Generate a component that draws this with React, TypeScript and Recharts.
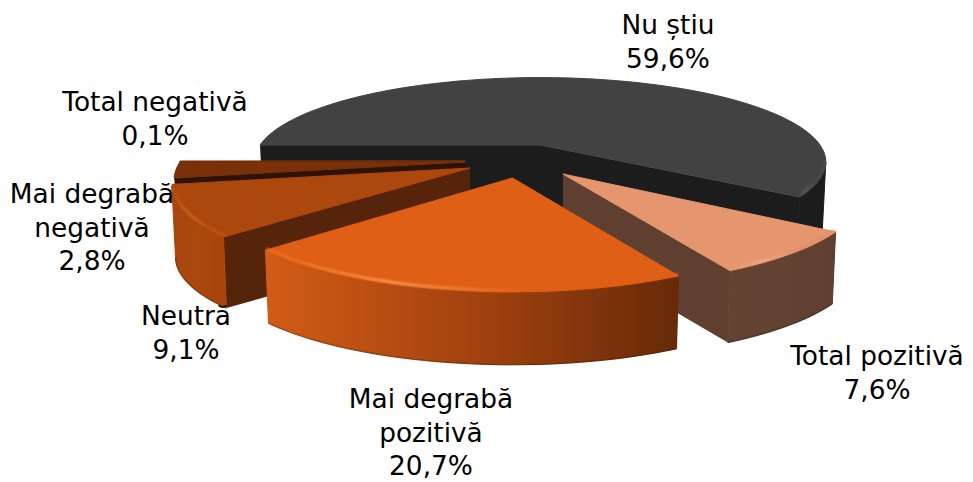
import { Pie, PieChart } from "recharts";

// order follows the paint order: back slices first, going counter-clockwise
const categories = [
  "Nu știu",
  "Total negativă",
  "Mai degrabă negativă",
  "Neutră",
  "Mai degrabă pozitivă",
  "Total pozitivă",
];
const shares = [59.6, 0.1, 2.8, 9.1, 20.7, 7.6];
const labelRows = [
  ["Nu știu"],
  ["Total negativă"],
  ["Mai degrabă", "negativă"],
  ["Neutră"],
  ["Mai degrabă", "pozitivă"],
  ["Total pozitivă"],
];

const rows = categories.map((name, i) => ({ name, value: shares[i], lines: labelRows[i] }));

const FRONT = "Mai degrabă pozitivă";
const CX = 500;
const CY = 160;
const RADIUS = 280;
const PERSPECTIVE = 0.2;
const START = 180 - (shares[0] / shares.reduce((a, b) => a + b, 0)) * 360;
// the rim is only seen between the two points where the outline turns back
const RIM_TURN = (Math.asin(PERSPECTIVE) * 180) / Math.PI;

// explode offset, scaling and look of every slice
const looks: Record<string, any> = {
  "Nu știu": {
    dx: 40, dy: -15, sx: 1, sy: 0.289, depth: 68, top: "#424242", cut: "#1c1c1c",
    rim: ["#1c1c1c", "#1c1c1c", "#1a1a1a"], shine: ["#424242", "#5a5a5a", "#484848"],
  },
  "Total negativă": {
    dx: -35, dy: 1, sx: 1.018, sy: 0.3, depth: 20, top: "#7a3009", cut: "#2e1204",
    rim: ["#7a3009", "#7a3009", "#7a3009"], shine: ["#7a3009", "#7a3009", "#7a3009"],
  },
  "Mai degrabă negativă": {
    dx: -35, dy: 2, sx: 1.018, sy: 0.304, depth: 30, top: "#7a3009", cut: "#2e1204",
    rim: ["#8c390b", "#8c390b", "#8c390b"], shine: ["#7a3009", "#a0450f", "#7a3009"],
  },
  Neutră: {
    dx: -30, dy: 8, sx: 1.043, sy: 0.311, depth: 71, top: "#ac470d", cut: "#55240a",
    rim: ["#a8460e", "#ab480e", "#a6440c"], shine: ["#b64c10", "#d9691f", "#c25312"],
  },
  [FRONT]: {
    dx: 12.5, dy: 18, sx: 1.045, sy: 0.325, depth: 73, top: "#df5f16", cut: "#55240a",
    rim: ["#d25c15", "#a4420f", "#672a08"], shine: ["#e8661a", "#ff9a50", "#df5f16"],
  },
  "Total pozitivă": {
    dx: 63, dy: 14, sx: 1.05, sy: 0.321, depth: 72, top: "#e5966e", cut: "#5e3f30",
    rim: ["#644333", "#624232", "#5e3f30"], shine: ["#e5966e", "#eeac8a", "#e09068"],
  },
};

// where the chart keeps its text: centre x and first baseline
const labelSpots: Record<string, [number, number]> = {
  "Nu știu": [668, 34],
  "Total negativă": [155, 111],
  "Mai degrabă negativă": [92, 203],
  Neutră: [186, 325],
  [FRONT]: [431, 408],
  "Total pozitivă": [877, 365],
};

const slug = (s: string) => s.normalize("NFD").replace(/[^a-zA-Z]/g, "");

function Slice(props: any) {
  const { cx, cy, outerRadius, startAngle, endAngle, name } = props;
  const look = looks[name];
  const ax = cx + look.dx;
  const ay = cy + look.dy;
  const rx = outerRadius * look.sx;
  const ry = outerRadius * look.sy;

  let lo = Math.min(startAngle, endAngle);
  let hi = Math.max(startAngle, endAngle);
  if (lo >= 179.99) {
    lo -= 360;
    hi -= 360;
  }

  const at = (deg: number): [number, number] => {
    const r = (deg * Math.PI) / 180;
    const down = -Math.sin(r);
    const w = 1 - PERSPECTIVE * down;
    return [ax + (rx * Math.cos(r)) / w, ay + (ry * down) / w];
  };
  const under = ([x, y]: [number, number]): [number, number] => [
    ax + (x - ax) * 0.988,
    y + look.depth,
  ];
  const arc = (from: number, to: number) => {
    const n = Math.max(2, Math.ceil(Math.abs(to - from) / 2));
    const pts: [number, number][] = [];
    for (let i = 0; i <= n; i++) pts.push(at(from + ((to - from) * i) / n));
    return pts;
  };
  const d = (pts: [number, number][], close = true) =>
    "M" + pts.map((p) => p[0].toFixed(1) + " " + p[1].toFixed(1)).join("L") + (close ? "Z" : "");

  const apex: [number, number] = [ax, ay];
  const apexLow: [number, number] = [ax, ay + look.depth];
  const cutFace = (deg: number) => d([apex, at(deg), under(at(deg)), apexLow]);

  const rimLo = Math.max(lo, -180 + RIM_TURN);
  const rimHi = Math.min(hi, -RIM_TURN);
  const rimTop = rimHi > rimLo ? arc(rimLo, rimHi) : [];
  const rimLow = rimTop.map(under);
  const shineLine = rimTop.map(([x, y]): [number, number] => [ax + (x - ax) * 0.995, y - 1.5]);
  const id = slug(name);

  return (
    <g>
      <defs>
        <linearGradient id={`rim${id}`} x1="0" y1="0" x2="1" y2="0">
          <stop offset="0" stopColor={look.rim[0]} />
          <stop offset="0.5" stopColor={look.rim[1]} />
          <stop offset="1" stopColor={look.rim[2]} />
        </linearGradient>
        <linearGradient id={`shine${id}`} x1="0" y1="0" x2="1" y2="0">
          <stop offset="0" stopColor={look.shine[0]} />
          <stop offset="0.3" stopColor={look.shine[1]} />
          <stop offset="0.65" stopColor={look.shine[2]} />
          <stop offset="1" stopColor={look.shine[2]} />
        </linearGradient>
        <filter id={`soft${id}`} x="-5%" y="-20%" width="110%" height="140%">
          <feGaussianBlur stdDeviation="0.9" />
        </filter>
      </defs>
      <path d={cutFace(hi)} fill={look.cut} />
      <path d={cutFace(lo)} fill={look.cut} />
      {rimTop.length > 0 && (
        <>
          <path
            d={d([...rimTop, ...[...rimLow].reverse()])}
            fill={`url(#rim${id})`}
            stroke={`url(#rim${id})`}
            strokeWidth={1}
            strokeLinejoin="round"
          />
          <path d={d(rimLow, false)} fill="none" stroke="#000" strokeOpacity={0.25} strokeWidth={1.5} />
        </>
      )}
      <path
        d={d([apex, ...arc(lo, hi)])}
        fill={look.top}
        stroke={look.top}
        strokeWidth={1}
        strokeLinejoin="round"
      />
      {rimTop.length > 0 && (
        <path
          d={d(shineLine, false)}
          fill="none"
          stroke={`url(#shine${id})`}
          strokeWidth={2.5}
          filter={`url(#soft${id})`}
        />
      )}
    </g>
  );
}

const backSlice = (props: any) => (props.name === FRONT ? <g /> : <Slice {...props} />);
const frontSlice = (props: any) => (props.name === FRONT ? <Slice {...props} /> : <g />);

function SliceLabel(props: any) {
  const { name, value, lines } = props;
  const [x, y] = labelSpots[name];
  const rowsOut = [...(lines ?? labelRows[categories.indexOf(name)]), value.toFixed(1).replace(".", ",") + "%"];
  return (
    <text x={x} y={y} textAnchor="middle" fill="#000" fontSize={26.4} fontFamily="'DejaVu Sans', sans-serif">
      {rowsOut.map((row, i) => (
        <tspan key={row} x={x} dy={i === 0 ? 0 : 33.7}>
          {row}
        </tspan>
      ))}
    </text>
  );
}

export default function App() {
  const pieProps = {
    data: rows,
    dataKey: "value",
    nameKey: "name",
    cx: CX,
    cy: CY,
    innerRadius: 0,
    outerRadius: RADIUS,
    startAngle: START,
    endAngle: START + 360,
    stroke: "none",
    isAnimationActive: false,
  };
  return (
    <div style={{ position: "absolute", left: 0, top: 0 }}>
      <PieChart width={973} height={482} margin={{ top: 0, right: 0, bottom: 0, left: 0 }}>
        <Pie {...pieProps} shape={backSlice} labelLine={false} label={SliceLabel} />
        <Pie {...pieProps} shape={frontSlice} labelLine={false} label={false} />
      </PieChart>
    </div>
  );
}
